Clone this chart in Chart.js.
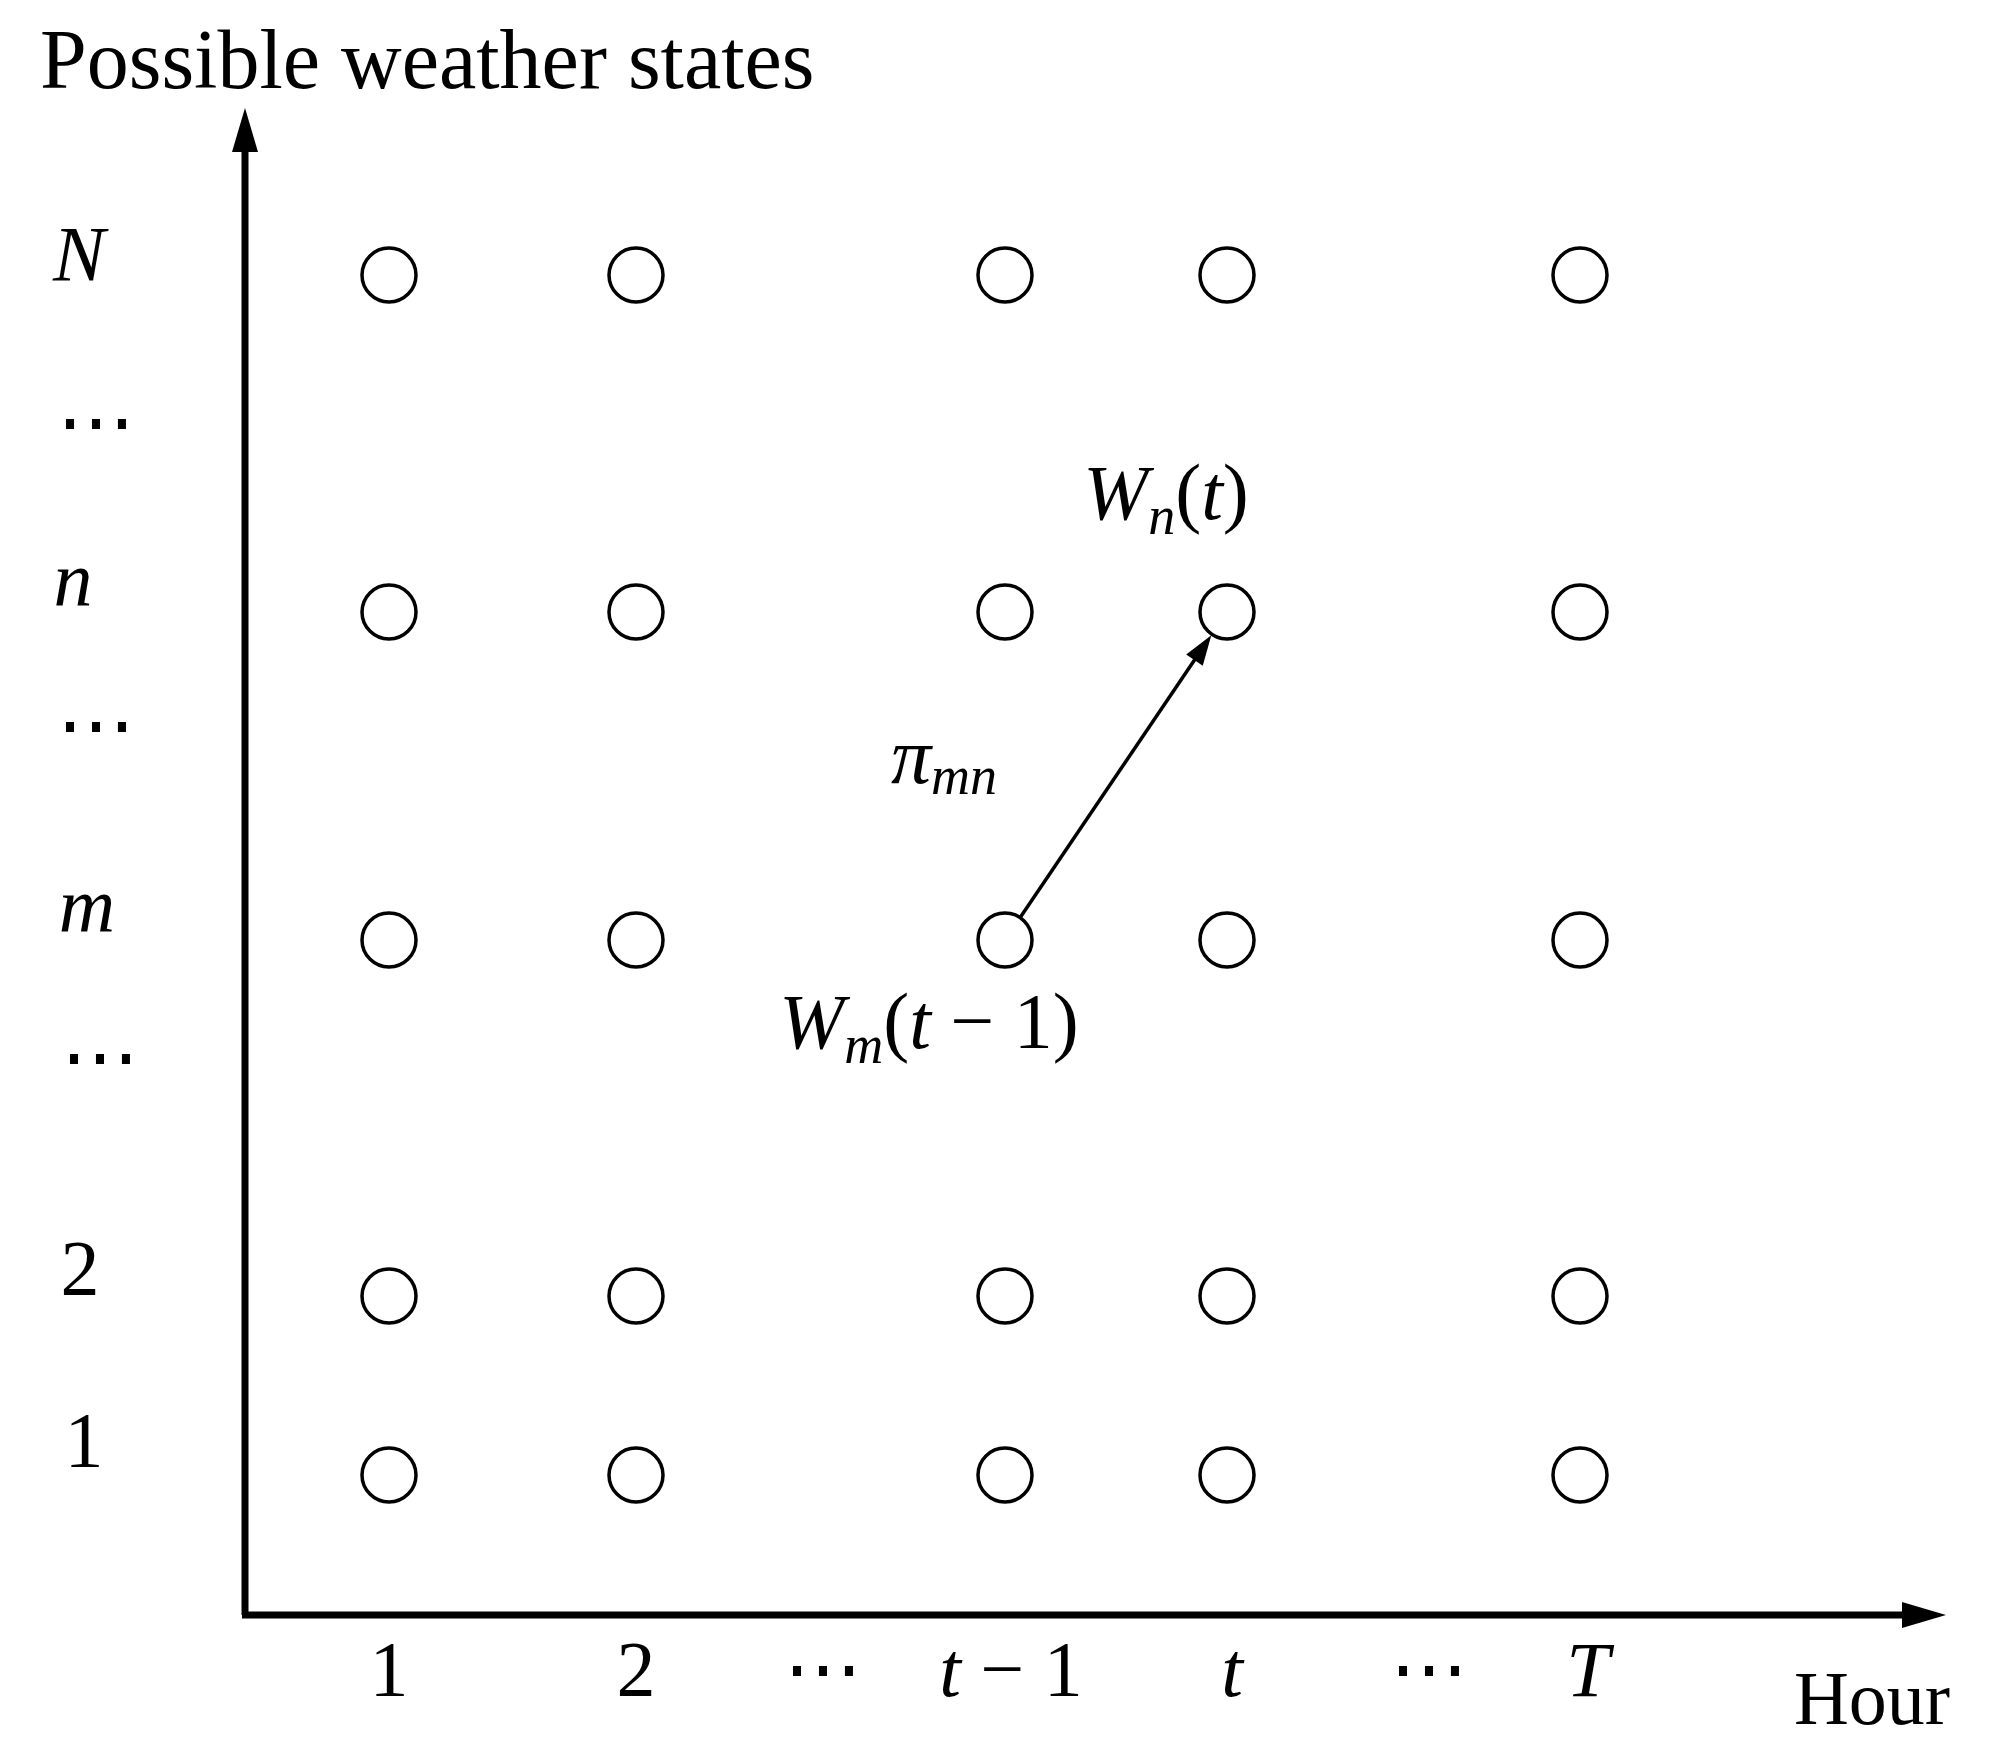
<!DOCTYPE html>
<html><head><meta charset="utf-8">
<script src="https://cdn.jsdelivr.net/npm/chart.js@4/dist/chart.umd.min.js"></script>
<style>html,body{margin:0;background:#fff}canvas{display:block}</style>
</head><body><canvas id="c" width="1991" height="1753"></canvas>
<script>
// column positions (x units from y-axis) and row positions (y units above x-axis)
const hourLabels = ["1","2","t − 1","t","T"];
const hourItalic = [false,false,true,true,true];
const colPos = [144,391,760,982,1335];
const rowPos = [1340,1003,675,319,140];
const ellipsisCols = [578,1184];
const stateLabels = ["N","⋯","n","⋯","m","⋯","2","1"];
const stateItalic = [true,false,true,false,true,false,false,false];
const stateLabelPos = [1356,1187,1030,884,704,552,341,169];
const stateLabelX = [-166,-149,-172,-149,-158,-145,-165,-161];

const pts=[];
colPos.forEach(x=>rowPos.forEach(y=>pts.push({x,y})));
const F='"Liberation Serif", "Times New Roman", serif';

function seg(ctx,x,y,parts){ // parts: [text,italic,size,dy]
  let w=0;
  parts.forEach(p=>{ctx.font=(p[1]?'italic ':'')+p[2]+'px '+F;w+=ctx.measureText(p[0]).width;});
  let cx=x-w/2;
  ctx.textAlign='left';
  parts.forEach(p=>{ctx.font=(p[1]?'italic ':'')+p[2]+'px '+F;ctx.fillText(p[0],cx,y+(p[3]||0));cx+=ctx.measureText(p[0]).width;});
}
function arrowHead(ctx,x,y,ang,len,wid){
  ctx.save();ctx.translate(x,y);ctx.rotate(ang);
  ctx.beginPath();ctx.moveTo(0,0);ctx.lineTo(-len,-wid/2);ctx.lineTo(-len,wid/2);ctx.closePath();ctx.fill();ctx.restore();
}
const deco={id:'deco',beforeDatasetsDraw(ch){
  const {ctx,chartArea:a,scales:{x,y}}=ch;
  ctx.save();ctx.fillStyle='#000';ctx.strokeStyle='#000';ctx.lineWidth=7;
  const ox=x.getPixelForValue(0), oy=y.getPixelForValue(0);
  ctx.beginPath();ctx.moveTo(ox,oy);ctx.lineTo(ox,a.top+40);ctx.moveTo(ox-3,oy);ctx.lineTo(a.right-40,oy);ctx.stroke();
  arrowHead(ctx,ox,a.top,-Math.PI/2,44,26);
  arrowHead(ctx,a.right,oy,0,44,26);
  const x1=x.getPixelForValue(colPos[2]),y1=y.getPixelForValue(rowPos[2]);
  const x2=x.getPixelForValue(colPos[3]),y2=y.getPixelForValue(rowPos[1]);
  const ang=Math.atan2(y2-y1,x2-x1),r=28;
  const sx=x1+Math.cos(ang)*r, sy=y1+Math.sin(ang)*r, ex=x2-Math.cos(ang)*r, ey=y2-Math.sin(ang)*r;
  ctx.lineWidth=3.5;ctx.beginPath();ctx.moveTo(sx,sy);ctx.lineTo(ex-Math.cos(ang)*20,ey-Math.sin(ang)*20);ctx.stroke();
  arrowHead(ctx,ex,ey,ang,30,20);
  ctx.textBaseline='middle';
  const ty=oy+60;
  hourLabels.forEach((l,i)=>{
    const px=x.getPixelForValue(colPos[i]);
    if(l==="t − 1") seg(ctx,px+6,ty,[["t",true,78],[" − 1",false,78]]);
    else seg(ctx,px+(i==4?8:i==3?5:0),ty,[[l,hourItalic[i],78]]);
  });
  ellipsisCols.forEach(v=>seg(ctx,x.getPixelForValue(v),ty,[["⋯",false,78]]));
  stateLabels.forEach((l,i)=>seg(ctx,ox+stateLabelX[i],y.getPixelForValue(stateLabelPos[i]),[[l,stateItalic[i],78]]));
  ctx.textAlign='left';ctx.font='84px '+F;ctx.fillText('Possible weather states',40,66);
  seg(ctx,1872,1704,[["Hour",false,76]]);
  seg(ctx,1166,498,[["W",true,78],["n",true,54,22],["(",false,78],["t",true,78],[")",false,78]]);
  seg(ctx,944,762,[["π",true,80],["mn",true,54,18]]);
  seg(ctx,929,1027,[["W",true,78],["m",true,54,22],["(",false,78],["t",true,78],[" − 1)",false,78]]);
  ctx.restore();
}};
new Chart(document.getElementById('c'),{
  type:'scatter',
  data:{datasets:[{data:pts,pointRadius:27,pointHoverRadius:27,pointBackgroundColor:'#fff',pointBorderColor:'#000',pointBorderWidth:3.5,showLine:false}]},
  options:{responsive:false,animation:false,events:[],
    layout:{padding:{left:245,right:45,top:108,bottom:138}},
    plugins:{legend:{display:false},tooltip:{enabled:false}},
    scales:{x:{type:'linear',display:false,min:0,max:1701},y:{type:'linear',display:false,min:0,max:1507}}},
  plugins:[deco]
});
</script></body></html>
